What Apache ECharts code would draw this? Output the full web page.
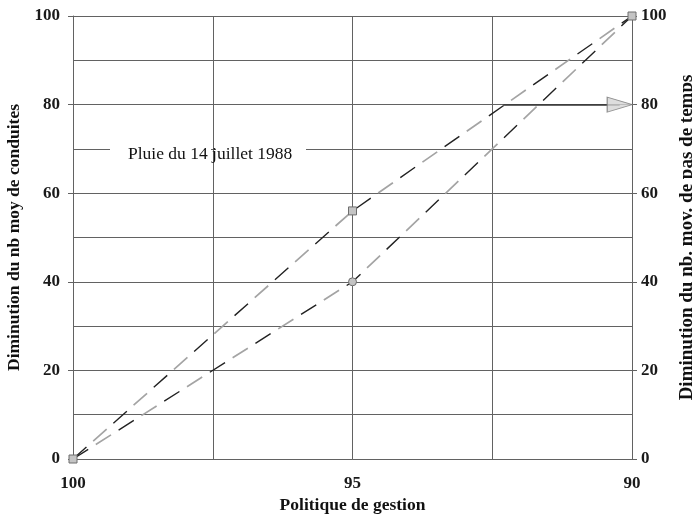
<!DOCTYPE html>
<html>
<head>
<meta charset="utf-8">
<script src="https://cdn.jsdelivr.net/npm/echarts@6/dist/echarts.min.js"></script>
<style>
html,body{margin:0;padding:0;background:#fff;}
#c{width:692px;height:519px;}
</style>
</head>
<body>
<div id="c"></div>
<script>
// ---- data ----
const policies = [100, 95, 90];
const conduites = [0, 40, 100];     // lower dashed series (circle marker at 95)
const pasDeTemps = [0, 56, 100];    // upper dashed series (square markers)
const xTicks = [100, 95, 90];
const yTicks = [0, 20, 40, 60, 80, 100];
const arrowLevel = 80;
const arrowFrom = 92.3;
const arrowHeadAt = 90.22;
const annotation = 'Pluie du 14 juillet 1988';

const SERIF = '"Liberation Serif", "DejaVu Serif", serif';

function pairs(ys) { return policies.map((x, i) => [x, ys[i]]); }

const chart = echarts.init(document.getElementById('c'));

const gridColor = '#626262';

function dashPair(name, ys, symbolFn) {
  const data = pairs(ys);
  return [
    {
      name: name + '_g', type: 'line', data: data, z: 3,
      symbol: 'none',
      lineStyle: { color: '#a4a4a4', width: 1.7, type: [18, 36], dashOffset: 27 },
      silent: true
    },
    {
      name: name, type: 'line', z: 4,
      data: data.map((d, i) => {
        const s = symbolFn(i);
        return s ? { value: d, symbol: s.symbol, symbolSize: s.size } : { value: d, symbol: 'none' };
      }),
      showAllSymbol: true,
      itemStyle: { color: '#c4c4c4', borderColor: '#6e6e6e', borderWidth: 1 },
      lineStyle: { color: '#222', width: 1.4, type: [18, 36], dashOffset: 0 },
      silent: true
    }
  ];
}

const series = []
  .concat(dashPair('conduites', conduites, i => (i === 1 ? { symbol: 'circle', size: 8 } : null)))
  .concat(dashPair('pas', pasDeTemps, i => ({ symbol: 'rect', size: 8 })));

series.push({
  name: 'arrow', type: 'line', data: [], silent: true,
  markLine: {
    silent: true,
    animation: false,
    symbol: ['none', 'none'],
    label: { show: false },
    lineStyle: { color: '#333', width: 1.6, type: 'solid' },
    data: [[
      { coord: [arrowFrom, arrowLevel] },
      { coord: [arrowHeadAt, arrowLevel] }
    ]]
  }
});
series.push({
  name: 'arrowHead', type: 'scatter', z: 6, silent: true,
  data: [[arrowHeadAt, arrowLevel]],
  symbol: 'triangle', symbolRotate: -90, symbolSize: [15, 25],
  itemStyle: { color: '#d4d4d4', borderColor: '#7a7a7a', borderWidth: 1 }
});

const labelStyle = { fontFamily: SERIF, fontWeight: 'bold', fontSize: 17, color: '#1a1a1a' };
const titleStyle = { fontFamily: SERIF, fontWeight: 'bold', fontSize: 17.5, color: '#111' };

chart.setOption({
  animation: false,
  backgroundColor: '#fff',
  grid: { left: 73, right: 60, top: 16, bottom: 60, containLabel: false, outerBoundsMode: 'none' },
  xAxis: {
    type: 'value', min: 90, max: 100, interval: 5, inverse: true,
    name: 'Politique de gestion', nameLocation: 'middle', nameGap: 37,
    nameTextStyle: titleStyle,
    axisLine: { show: true, lineStyle: { color: gridColor, width: 1 } },
    axisTick: { show: false },
    axisLabel: Object.assign({ margin: 16, formatter: v => (xTicks.indexOf(v) >= 0 ? String(v) : '') }, labelStyle),
    splitLine: { show: true, lineStyle: { color: gridColor, width: 1 } },
    minorTick: { show: false, splitNumber: 2 },
    minorSplitLine: { show: true, lineStyle: { color: gridColor, width: 1 } }
  },
  yAxis: [
    {
      type: 'value', min: 0, max: 100, interval: 20, position: 'left',
      name: 'Diminution du nb moy de conduites', nameLocation: 'middle', nameGap: 44,
      nameTextStyle: titleStyle,
      axisLine: { show: true, lineStyle: { color: gridColor, width: 1 } },
      axisTick: { show: true, length: 5, lineStyle: { color: gridColor } },
      axisLabel: Object.assign({ margin: 13, formatter: v => (yTicks.indexOf(v) >= 0 ? String(v) : '') }, labelStyle),
      splitLine: { show: true, lineStyle: { color: gridColor, width: 1 } },
      minorTick: { show: false, splitNumber: 2 },
      minorSplitLine: { show: true, lineStyle: { color: gridColor, width: 1 } }
    },
    {
      type: 'value', min: 0, max: 100, interval: 20, position: 'right',
      name: 'Diminution du nb. moy. de pas de temps', nameLocation: 'middle', nameGap: 46,
      nameRotate: 90,
      nameTextStyle: Object.assign({}, titleStyle, { fontSize: 19 }),
      axisLine: { show: true, lineStyle: { color: gridColor, width: 1 } },
      axisTick: { show: true, length: 5, lineStyle: { color: gridColor } },
      axisLabel: Object.assign({ margin: 9, formatter: v => (yTicks.indexOf(v) >= 0 ? String(v) : '') }, labelStyle),
      splitLine: { show: false }
    }
  ],
  graphic: [
    { type: 'rect', z: 1, shape: { x: 110, y: 146, width: 101, height: 5 }, style: { fill: '#fff' } },
    { type: 'rect', z: 1, shape: { x: 216, y: 146, width: 90, height: 5 }, style: { fill: '#fff' } },
    { type: 'text', z: 5, left: 128, top: 145,
      style: { text: annotation, fontFamily: SERIF, fontSize: 17.5, fill: '#111' } }
  ],
  series: series
});
</script>
</body>
</html>
